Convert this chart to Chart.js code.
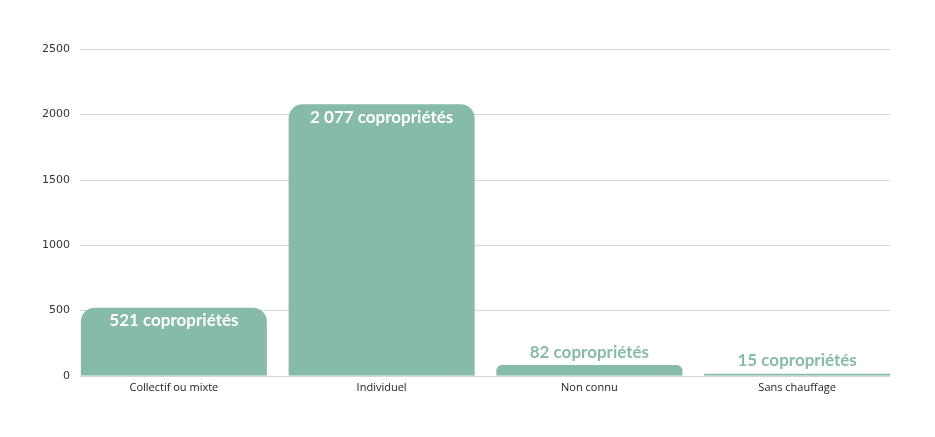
<!DOCTYPE html>
<html>
<head>
<meta charset="utf-8">
<script src="https://cdn.jsdelivr.net/npm/chart.js@4/dist/chart.umd.min.js"></script>
<style>
  body { margin: 0; background: #fff; }
  #wrap { width: 935px; height: 437px; }
</style>
</head>
<body>
<div id="wrap"><canvas id="myChart" width="935" height="437"></canvas></div>
<script>
// chart data
const categories = ["Collectif ou mixte", "Individuel", "Non connu", "Sans chauffage"];
const counts = [521, 2077, 82, 15];
const countLabels = ["521 copropriétés", "2 077 copropriétés", "82 copropriétés", "15 copropriétés"];
const yTicks = [0, 500, 1000, 1500, 2000, 2500];

const barColor = "#86bba8";

// horizontal grid lines, only as wide as the row of bars
const shortGrid = {
  id: "shortGrid",
  beforeDatasetsDraw(chart) {
    const ctx = chart.ctx;
    const bars = chart.getDatasetMeta(0).data;
    const first = bars[0];
    const last = bars[bars.length - 1];
    const x0 = first.x - first.width / 2 - 1;
    const x1 = last.x + last.width / 2;
    const yScale = chart.scales.y;
    ctx.save();
    ctx.strokeStyle = "#d6d6d6";
    ctx.lineWidth = 1;
    yTicks.forEach(v => {
      const y = Math.round(yScale.getPixelForValue(v)) + 0.5;
      ctx.beginPath();
      ctx.moveTo(x0, y);
      ctx.lineTo(x1, y);
      ctx.stroke();
    });
    ctx.restore();
  }
};

// draws the value labels: inside the bar when it is tall enough, above it otherwise
const barLabels = {
  id: "barLabels",
  afterDatasetsDraw(chart) {
    const ctx = chart.ctx;
    const meta = chart.getDatasetMeta(0);
    ctx.save();
    ctx.font = "bold 17px Lato";
    ctx.textAlign = "center";
    ctx.textBaseline = "middle";
    meta.data.forEach((bar, i) => {
      const h = bar.base - bar.y;
      if (h > 40) {
        ctx.fillStyle = "#ffffff";
        ctx.fillText(countLabels[i], bar.x, bar.y + 13);
      } else {
        ctx.fillStyle = barColor;
        ctx.fillText(countLabels[i], bar.x, bar.y - 13);
      }
    });
    ctx.restore();
  }
};

function initChart(target) {
  const data = {
    labels: categories,
    datasets: [
      {
        data: counts,
        backgroundColor: barColor,
        borderRadius: { topLeft: 14, topRight: 14 },
        borderSkipped: "bottom",
        categoryPercentage: 1,
        barPercentage: 0.8955,
      },
    ],
  };

  const config = {
    type: "bar",
    data: data,
    options: {
      responsive: false,
      animation: false,
      layout: { padding: { top: 49, right: 34, bottom: 38, left: 42 } },
      plugins: {
        legend: { display: false },
        tooltip: { enabled: false },
      },
      scales: {
        x: {
          grid: { display: false, drawTicks: false },
          border: { display: false },
          ticks: {
            color: "#222",
            font: { family: "Open Sans", size: 11 },
            padding: 5,
          },
        },
        y: {
          min: 0,
          max: 2500,
          afterBuildTicks(axis) {
            axis.ticks = yTicks.map(v => ({ value: v }));
          },
          grid: { display: false, drawTicks: false },
          border: { display: false },
          ticks: {
            color: "#333",
            font: { family: "'DejaVu Sans'", size: 11 },
            padding: 0,
            callback: (v) => String(v),
          },
        },
      },
    },
    plugins: [shortGrid, barLabels],
  };

  return new Chart(target, config);
}

initChart(document.querySelector("#myChart"));
</script>
</body>
</html>
